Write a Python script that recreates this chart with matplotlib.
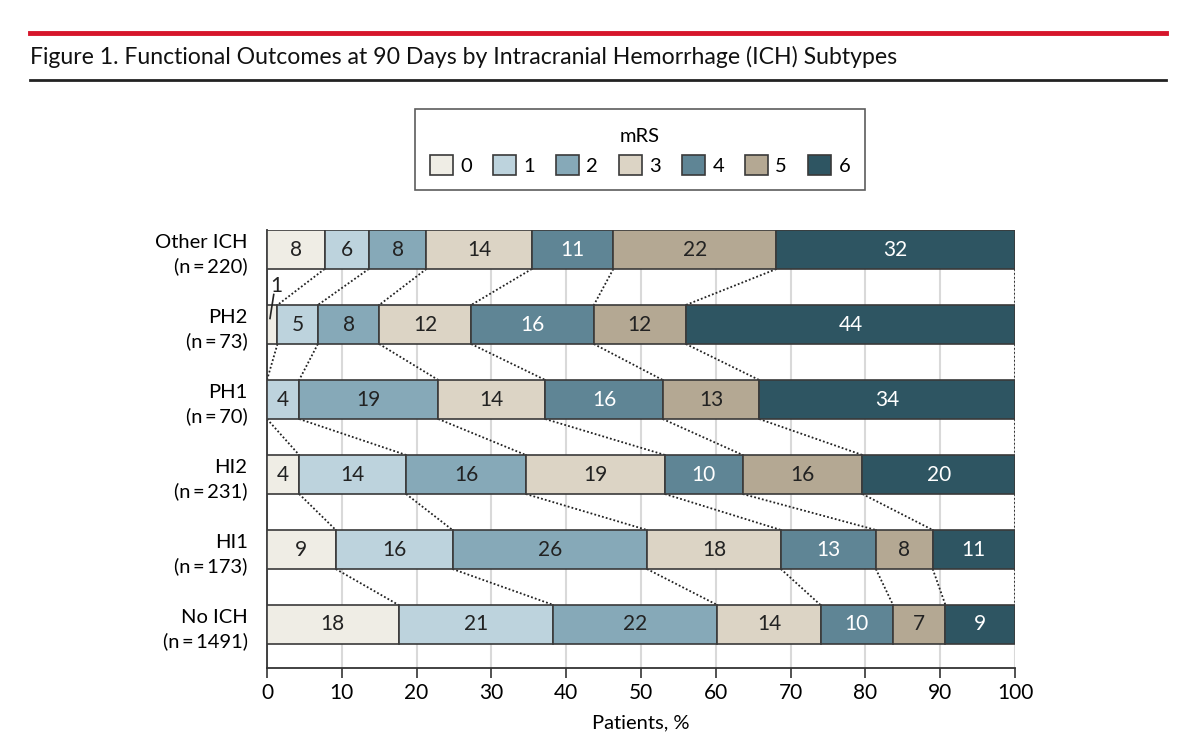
import matplotlib
matplotlib.use("Agg")
import matplotlib.pyplot as plt
from matplotlib.patches import Patch
from matplotlib.lines import Line2D
import numpy as np

plt.rcParams['font.family'] = ['Lato', 'DejaVu Sans']

# rows listed bottom to top
groups = ["No ICH", "HI1", "HI2", "PH1", "PH2", "Other ICH"]
group_n = ["1491", "173", "231", "70", "73", "220"]
mrs_levels = ["0", "1", "2", "3", "4", "5", "6"]

# percent of patients per mRS level (0..6), per group
no_ich = [17.6, 20.7, 21.9, 13.8, 9.7, 7.0, 9.3]
hi1 = [9.2, 15.6, 26.0, 17.9, 12.7, 7.6, 11.0]
hi2 = [4.3, 14.3, 16.0, 18.6, 10.4, 16.0, 20.4]
ph1 = [0.0, 4.3, 18.6, 14.3, 15.7, 12.9, 34.2]
ph2 = [1.4, 5.4, 8.2, 12.3, 16.4, 12.3, 44.0]
other_ich = [7.7, 5.9, 7.7, 14.1, 10.9, 21.8, 31.9]
rows = [no_ich, hi1, hi2, ph1, ph2, other_ich]

colors = ["#efede5", "#bdd3dd", "#86a9b8", "#dcd4c5", "#5f8595", "#b4a893", "#2e5562"]
text_colors = ["#222222", "#222222", "#222222", "#222222", "white", "#222222", "white"]
edge = "#3a3a3a"

fig = plt.figure(figsize=(11.99, 7.46), dpi=100)
ax = fig.add_axes([267 / 1199, 1 - 668 / 746, 748 / 1199, 438 / 746])

bar_h = 0.52
y_pos = np.arange(len(groups))
for y, vals in zip(y_pos, rows):
    left = 0
    for k, v in enumerate(vals):
        if v > 0:
            ax.barh(y, v, left=left, height=bar_h, color=colors[k], edgecolor=edge,
                    linewidth=1.2, zorder=3)
            if v >= 2:
                ax.text(left + v / 2, y, str(int(round(v))), ha="center", va="center",
                        fontsize=15, color=text_colors[k], zorder=4)
        left += v

# dotted connectors between neighbouring bars
for i in range(len(rows) - 1):
    lower = np.cumsum(rows[i])
    upper = np.cumsum(rows[i + 1])
    for a, b in zip(upper, lower):
        ax.plot([a, b], [y_pos[i + 1] - bar_h / 2, y_pos[i] + bar_h / 2], ls=(0, (1, 1.2)),
                color="#222222", lw=1.3, zorder=2)

# small callout for PH2 mRS 0
ph2_y = groups.index("PH2")
ax.plot([0.4, 0.9], [ph2_y + 0.08, ph2_y + 0.4], color="#222222", lw=1.2, zorder=5,
        clip_on=False)
ax.text(1.3, ph2_y + 0.51, "1", ha="center", va="center", fontsize=15, color="#222222")

ax.set_xlim(0, 100)
ax.set_ylim(-0.58, len(groups) - 1 + bar_h / 2)
ax.set_xticks(np.arange(0, 101, 10))
ax.set_yticks(y_pos)
ax.set_yticklabels([f"{g}\n(n\u2009=\u2009{n})" for g, n in zip(groups, group_n)],
                   fontsize=14.5, linespacing=1.45)
ax.tick_params(axis="y", length=0, pad=14)
ax.tick_params(axis="x", labelsize=15, length=7, width=1.2, color="#333333", pad=4)
ax.xaxis.grid(True, color="#d9d9d9", lw=1.5, zorder=0)
ax.set_axisbelow(True)
for s in ["top", "right"]:
    ax.spines[s].set_visible(False)
for s in ["left", "bottom"]:
    ax.spines[s].set_color("#333333")
    ax.spines[s].set_linewidth(1.3)
ax.set_xlabel("Patients, %", fontsize=14.5, labelpad=8)

handles = [Patch(facecolor=c, edgecolor=edge, linewidth=1.2) for c in colors]
leg = fig.legend(handles, mrs_levels, ncol=7, title="mRS", loc="center",
                 bbox_to_anchor=(640 / 1199, 1 - 149.5 / 746), fontsize=14.5,
                 title_fontsize=14.5, fancybox=False, edgecolor="#333333",
                 handlelength=1.15, handleheight=1.15, handletextpad=0.35,
                 columnspacing=1.05, borderpad=0.75, labelspacing=0.7)
leg.get_frame().set_linewidth(1.2)
leg.get_title().set_position((0, -4))

# title with the rules above and below
fig.add_artist(Line2D([30 / 1199, 1166 / 1199], [1 - 33 / 746] * 2, color="#d6152b", lw=3.5))
fig.add_artist(Line2D([30 / 1199, 1166 / 1199], [1 - 80 / 746] * 2, color="#222222", lw=2))
fig.text(30 / 1199, 1 - 57 / 746,
         "Figure 1. Functional Outcomes at 90 Days by Intracranial Hemorrhage (ICH) Subtypes",
         fontsize=16.6, va="center", ha="left", color="#111111")

fig.savefig("out.png", dpi=100)
